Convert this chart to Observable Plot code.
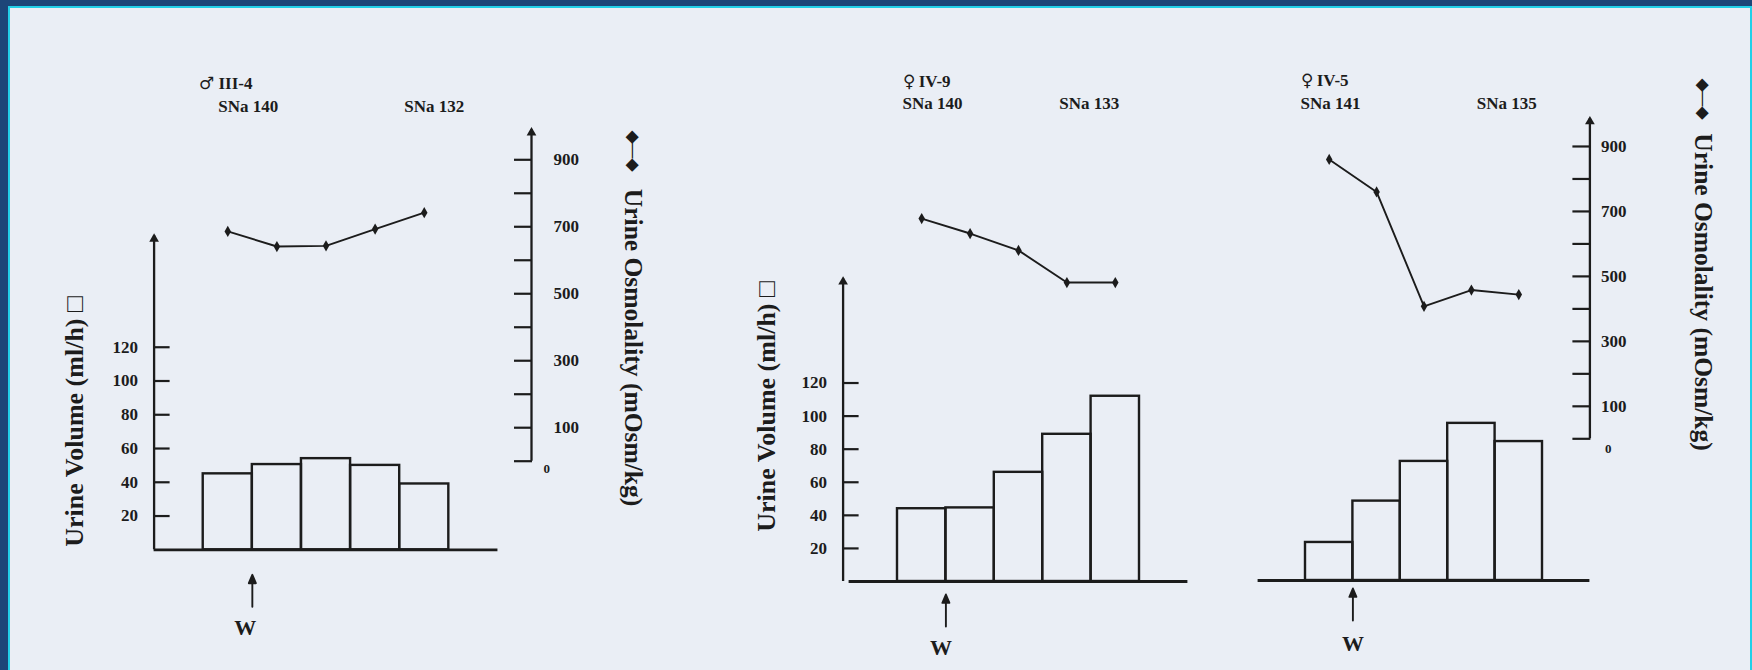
<!DOCTYPE html>
<html>
<head>
<meta charset="utf-8">
<script src="https://cdn.jsdelivr.net/npm/d3@7"></script>
<script src="https://cdn.jsdelivr.net/npm/@observablehq/plot@0.6"></script>
<style>
@font-face { font-family: "SexSymbols"; src: local("DejaVu Sans Bold"), local("DejaVuSans-Bold"), local("DejaVu Sans"); unicode-range: U+2640-2642; }
html, body { margin: 0; padding: 0; background: #1d4678; }
#frame { position: relative; width: 1752px; height: 670px; background: #1d4678; overflow: hidden; }
#inner { position: absolute; left: 8px; top: 6px; width: 1744px; height: 670px; box-sizing: border-box;
  background: #eaeef5; border-left: 2px solid #22d0e8; border-top: 2px solid #22d0e8; border-right: 2px solid #22d0e8; }
#chart { position: absolute; left: 0; top: 0; width: 1752px; height: 670px; }
#chart svg { position: absolute; left: 0; top: 0; overflow: visible; background: transparent; max-width: none; }
</style>
</head>
<body>
<div id="frame"><div id="inner"></div><div id="chart"></div></div>
<script>
// ---------------- data ----------------
const subjects = ["♂ III-4", "♀ IV-9", "♀ IV-5"];
const snaStart = [140, 140, 141];
const snaEnd = [132, 133, 135];
const periods = [1, 2, 3, 4, 5];
const volumeIII4 = [45, 50.5, 54, 50, 39];
const volumeIV9 = [44, 44.5, 66, 89, 112];
const volumeIV5 = [23, 48, 72, 95, 84];
const osmIII4 = [686, 641, 643, 693, 742];
const osmIV9 = [678, 632, 580, 481, 481];
const osmIV5 = [860, 760, 408, 458, 444];
const volumeTicks = [20, 40, 60, 80, 100, 120];
const osmTicks = [0, 100, 200, 300, 400, 500, 600, 700, 800, 900];
const osmLabelTicks = [100, 300, 500, 700, 900];
const osmZeroTick = [0];
const waterLoadAt = 1; // W given at the boundary of period 1 and period 2
const volumeTitle = "Urine Volume (ml/h) □";
const osmTitle = "Urine Osmolality (mOsm/kg)";
const osmKey = "◆—◆";

// ---------------- layout ----------------
const W = 1752, H = 670;
const ink = "#1c1c1c";
const FONT = "'Liberation Serif', 'Times New Roman', serif";
const ID_FONT = "'SexSymbols', 'Liberation Serif', serif";
const xDomain = [-1, periods.length + 1]; // empty slot before and after the periods

const layout = [
  {x0: 153.6, unit: 49.12, vol0: 549.3, volK: 1.688, volTop: 186,
   osm0: 460.7, osmK: 0.3349, osmTop: 990, osmAxisPx: 531,
   leftAxis: true, leftAxisDx: 0, rightAxis: true, osmGap: 22, zeroPad: 12, zeroDy: 8,
   idDx: -4, idY: 83, startDx: 15, startY: 106, endDx: 10, wTail: 57, wY: 627, wDx: -7,
   volLabel: [74, 421], osmKeyPos: [633, 150], osmLabelPos: [633, 347]},
  {x0: 848.6, unit: 48.4, vol0: 581, volK: 1.654, volTop: 183,
   osm0: 438.3, osmK: 0.3248, osmTop: 986, osmAxisPx: null,
   leftAxis: true, leftAxisDx: -6, rightAxis: false,
   idDx: 5, idY: 81, startDx: 5, startY: 103, endDx: -26, wTail: 45, wY: 647, wDx: -5,
   volLabel: [766, 406]},
  {x0: 1257.6, unit: 47.4, vol0: 580, volK: 1.654, volTop: 183,
   osm0: 438.3, osmK: 0.3248, osmTop: 986, osmAxisPx: 1589.4,
   leftAxis: false, rightAxis: true, osmGap: 11, zeroPad: 15, zeroDy: 10,
   idDx: -5, idY: 80, startDx: -5, startY: 103, endDx: -12, wTail: 40, wY: 643, wDx: 0,
   osmKeyPos: [1703, 98], osmLabelPos: [1703, 291.5]}
];

// centred text placed at a page position relative to a plot's frame
const place = (mL, mT, [px, py]) => ({frameAnchor: "top-left", textAnchor: "middle", lineAnchor: "middle", dx: px - mL, dy: py - mT});

const wArrow = {
  draw(ctx, l, r) {
    const h = 2.4 * r, w = r;
    ctx.moveTo(0, 0); ctx.lineTo(0, -l + h);
    ctx.moveTo(-w, -l + h); ctx.lineTo(0, -l); ctx.lineTo(w, -l + h); ctx.closePath();
  }
};

const style = {fontFamily: FONT, fontWeight: "bold", color: ink};
const chart = document.getElementById("chart");

function panel(p, vols, osms) {
  const L = layout[p];
  const xRight = L.x0 + (xDomain[1] - xDomain[0]) * L.unit;
  const volTopPx = L.vol0 - L.volTop * L.volK;
  const vmL = L.x0, vmT = volTopPx;

  // ---- volume plot ----
  const volMarks = [
    Plot.rectY(vols, {x1: (d, i) => i, x2: (d, i) => i + 1, y: d => d, fill: "none", stroke: ink, strokeWidth: 2.4}),
    Plot.ruleY([0], {stroke: ink, strokeWidth: 2.8}),
    Plot.vector([waterLoadAt], {x: d => d, frameAnchor: "bottom", dy: L.wTail, length: 32, anchor: "start",
      shape: wArrow, r: 3.5, stroke: ink, fill: ink, strokeWidth: 1.9}),
    Plot.text([waterLoadAt], {x: d => d, frameAnchor: "bottom", dy: L.wY - L.vol0, dx: L.wDx,
      text: () => "W", fontSize: 22, fill: ink, lineAnchor: "middle"})
  ];
  if (L.leftAxis) {
    volMarks.push(
      Plot.ruleX([xDomain[0]], {dx: L.leftAxisDx, stroke: ink, strokeWidth: 2.3}),
      Plot.dot([xDomain[0]], {x: d => d, frameAnchor: "top", dx: L.leftAxisDx, dy: 3, symbol: "triangle", r: 3.6, fill: ink}),
      Plot.axisY({anchor: "left", ticks: volumeTicks, tickSize: -16, fill: "none", stroke: ink, strokeWidth: 2.2, dx: L.leftAxisDx}),
      Plot.axisY({anchor: "left", ticks: volumeTicks, tickSize: 0, tickPadding: 16, fontSize: 17, fill: ink, dx: L.leftAxisDx}),
      Plot.text([volumeTitle], {...place(vmL, vmT, L.volLabel), text: d => d, rotate: -90, fontSize: 26, fill: ink})
    );
  }
  chart.appendChild(Plot.plot({
    width: W, height: H,
    marginLeft: vmL, marginRight: W - xRight, marginTop: vmT, marginBottom: H - L.vol0,
    style,
    x: {domain: xDomain, axis: null},
    y: {domain: [0, L.volTop], axis: L.leftAxis ? undefined : null},
    marks: volMarks
  }));

  // ---- osmolality plot ----
  const osmAxisPx = L.osmAxisPx ?? xRight;
  const osmXMax = xDomain[0] + (osmAxisPx - L.x0) / L.unit;
  const osmTopPx = L.osm0 - L.osmTop * L.osmK;
  const omL = L.x0, omT = osmTopPx;
  const last = periods.length - 1;
  const osmMarks = [
    Plot.line(osms, {x: (d, i) => i + 0.5, y: d => d, stroke: ink, strokeWidth: 1.9}),
    Plot.dot(osms, {x: (d, i) => i + 0.5, y: d => d, symbol: "diamond", r: 3.4, fill: ink}),
    Plot.text([subjects[p]], {x: () => 0, frameAnchor: "top", dy: L.idY - osmTopPx, dx: L.idDx,
      text: d => d, textAnchor: "start", lineAnchor: "middle", fontSize: 17, fontFamily: ID_FONT, fill: ink}),
    Plot.text([snaStart[p]], {x: () => 0, frameAnchor: "top", dy: L.startY - osmTopPx, dx: L.startDx,
      text: d => `SNa ${d}`, textAnchor: "start", lineAnchor: "middle", fontSize: 17, fill: ink}),
    Plot.text([snaEnd[p]], {x: () => last + 0.5, frameAnchor: "top", dy: L.startY - osmTopPx, dx: L.endDx,
      text: d => `SNa ${d}`, textAnchor: "middle", lineAnchor: "middle", fontSize: 17, fill: ink})
  ];
  if (L.rightAxis) {
    osmMarks.push(
      Plot.ruleX([osmXMax], {stroke: ink, strokeWidth: 2.3}),
      Plot.dot([osmXMax], {x: d => d, frameAnchor: "top", dy: 3, symbol: "triangle", r: 3.6, fill: ink}),
      Plot.axisY({anchor: "right", ticks: osmTicks, tickSize: -18, fill: "none", stroke: ink, strokeWidth: 2.2}),
      Plot.axisY({anchor: "right", ticks: osmLabelTicks, tickSize: 0, tickPadding: L.osmGap, fontSize: 17, fill: ink}),
      Plot.axisY({anchor: "right", ticks: osmZeroTick, tickSize: 0, tickPadding: L.zeroPad, dy: L.zeroDy, fontSize: 13, fill: ink}),
      Plot.text([osmKey], {...place(omL, omT, L.osmKeyPos), text: d => d, rotate: 90, fontSize: 16, fill: ink}),
      Plot.text([osmTitle], {...place(omL, omT, L.osmLabelPos), text: d => d, rotate: 90, fontSize: 25.5, fill: ink})
    );
  }
  chart.appendChild(Plot.plot({
    width: W, height: H,
    marginLeft: omL, marginRight: W - osmAxisPx, marginTop: omT, marginBottom: H - L.osm0,
    style,
    x: {domain: [xDomain[0], osmXMax], axis: null},
    y: {domain: [0, L.osmTop], axis: L.rightAxis ? undefined : null},
    marks: osmMarks
  }));
}

panel(0, volumeIII4, osmIII4);
panel(1, volumeIV9, osmIV9);
panel(2, volumeIV5, osmIV5);
</script>
</body>
</html>
